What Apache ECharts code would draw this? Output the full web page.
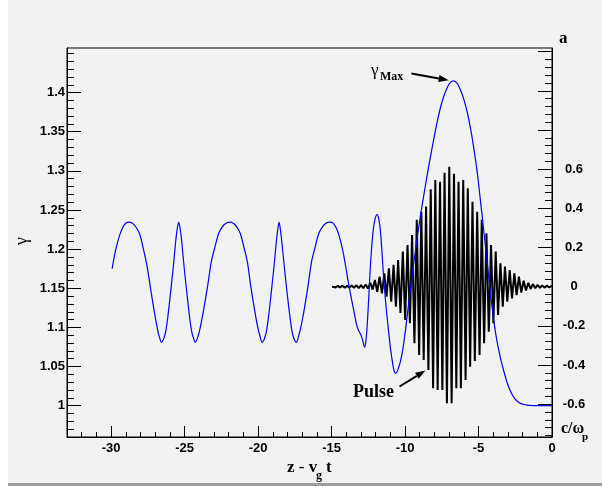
<!DOCTYPE html>
<html>
<head>
<meta charset="utf-8">
<script src="https://cdn.jsdelivr.net/npm/echarts@6/dist/echarts.min.js"></script>
<style>
  html, body { margin: 0; padding: 0; background: #ffffff; }
  #chart { width: 602px; height: 486px; }
</style>
</head>
<body>
<div id="chart"></div>
<script>
// Lorentz factor of the wake electrons along the co-moving coordinate z - v_g t
const gammaZ = [
  -29.93, -29.7, -29.45, -29.2, -29.0, -28.8, -28.55, -28.3, -28.05, -27.8, -27.55, -27.3, -27.05, -26.8, -26.7, -26.58,
  -26.43, -26.28, -26.13, -25.98, -25.78, -25.63, -25.53, -25.4, -25.27, -25.17, -25.02, -24.82, -24.67, -24.52, -24.39, -24.27,
  -24.08, -23.93, -23.68, -23.43, -23.18, -22.93, -22.68, -22.43, -22.18, -21.93,
  -21.69, -21.45, -21.21, -20.97, -20.73, -20.5, -20.26, -20.02, -19.87, -19.73,
  -19.58, -19.43, -19.28, -19.13, -18.93, -18.78, -18.68, -18.57, -18.46, -18.36, -18.2, -18.0, -17.84, -17.69, -17.54, -17.39,
  -17.24, -17.09, -16.84, -16.6, -16.36, -16.11, -15.87, -15.62, -15.38, -15.13,
  -14.88, -14.63, -14.38, -14.13, -13.88, -13.63, -13.45, -13.3, -13.16, -13.04, -12.9, -12.75,
  -12.65, -12.55, -12.45, -12.36, -12.25, -12.14, -12.02, -11.9, -11.79, -11.68, -11.57, -11.46, -11.34, -11.22, -11.1, -11.0,
  -10.85, -10.75, -10.65, -10.55, -10.45, -10.32, -10.15, -9.98, -9.8, -9.64, -9.4, -9.18, -8.95, -8.73, -8.5, -8.27, -8.05,
  -7.83, -7.6, -7.37, -7.14, -6.92, -6.69, -6.46, -6.24, -6.01, -5.78, -5.55, -5.33, -5.1, -4.88, -4.65, -4.42, -4.2,
  -3.97, -3.75, -3.52, -3.29, -3.06, -2.84, -2.61, -2.38, -2.15, -1.92, -1.69, -1.46, -1.14, -0.6, 0];
const gammaVal = [
  1.175, 1.198, 1.216, 1.228, 1.233, 1.2345, 1.233, 1.228, 1.219, 1.200, 1.178, 1.148, 1.119, 1.094, 1.087, 1.081,
  1.085, 1.095, 1.115, 1.140, 1.175, 1.205, 1.222, 1.2345, 1.222, 1.205, 1.175, 1.140, 1.115, 1.095, 1.086, 1.081,
  1.089, 1.100, 1.125, 1.153, 1.184, 1.203, 1.220, 1.2285, 1.233, 1.2345,
  1.233, 1.2285, 1.220, 1.203, 1.184, 1.153, 1.125, 1.100, 1.089, 1.081,
  1.085, 1.095, 1.115, 1.140, 1.175, 1.205, 1.222, 1.2345, 1.222, 1.205, 1.175, 1.140, 1.115, 1.095, 1.085, 1.081,
  1.089, 1.100, 1.125, 1.153, 1.184, 1.203, 1.220, 1.2285, 1.233, 1.2345,
  1.233, 1.225, 1.210, 1.188, 1.160, 1.135, 1.118, 1.104, 1.096, 1.092, 1.085, 1.0746,
  1.085, 1.110, 1.145, 1.177, 1.207, 1.228, 1.240, 1.2443, 1.239, 1.224, 1.197, 1.164, 1.137, 1.113, 1.092, 1.0746,
  1.055, 1.045, 1.0413, 1.043, 1.048, 1.056, 1.072, 1.095, 1.123, 1.148, 1.183, 1.213, 1.243, 1.268, 1.294, 1.318, 1.340,
  1.361, 1.380, 1.395, 1.406, 1.413, 1.415, 1.412, 1.404, 1.392, 1.376, 1.355, 1.330, 1.300, 1.264, 1.225, 1.185, 1.146,
  1.110, 1.083, 1.062, 1.045, 1.030, 1.019, 1.011, 1.006, 1.003, 1.0015, 1.0007, 1.0003, 1.0, 1.0, 1.0];

// Laser pulse field a: successive crests and troughs of the carrier
const pulseZ = [-14.97,
  -14.89, -14.73, -14.57, -14.42, -14.26, -14.10, -13.94, -13.78, -13.63, -13.47,
  -13.31, -13.15, -12.99, -12.84, -12.68, -12.52, -12.36, -12.20, -12.05, -11.89,
  -11.73, -11.57, -11.41, -11.26, -11.10, -10.94, -10.78, -10.62, -10.47, -10.31,
  -10.15, -9.99, -9.83, -9.67, -9.52, -9.36, -9.20, -9.04, -8.89, -8.73,
  -8.57, -8.41, -8.25, -8.09, -7.94, -7.78, -7.62, -7.46, -7.31, -7.15,
  -6.99, -6.83, -6.67, -6.51, -6.36, -6.20, -6.04, -5.88, -5.73, -5.57,
  -5.41, -5.25, -5.09, -4.93, -4.78, -4.62, -4.46, -4.30, -4.15, -3.99,
  -3.83, -3.67, -3.51, -3.35, -3.20, -3.04, -2.88, -2.72, -2.56, -2.41,
  -2.25, -2.09, -1.93, -1.77, -1.61, -1.46, -1.30, -1.14, -0.98, -0.82,
  -0.67, -0.51, -0.35, -0.19, -0.04, 0];
const pulseA = [0,
  0.004, -0.004, 0.004, -0.004, 0.005, -0.005, 0.005, -0.005, 0.006, -0.006,
  0.007, -0.007, 0.008, -0.008, 0.011, -0.010, 0.020, -0.015, 0.034, -0.026,
  0.051, -0.034, 0.068, -0.051, 0.094, -0.077, 0.111, -0.102, 0.136, -0.135,
  0.179, -0.170, 0.213, -0.187, 0.264, -0.289, 0.341, -0.349, 0.383, -0.374,
  0.409, -0.426, 0.497, -0.519, 0.545, -0.528, 0.536, -0.528, 0.582, -0.596,
  0.613, -0.596, 0.576, -0.519, 0.536, -0.519, 0.545, -0.477, 0.502, -0.409,
  0.434, -0.380, 0.383, -0.349, 0.341, -0.289, 0.272, -0.230, 0.213, -0.187,
  0.179, -0.145, 0.119, -0.102, 0.102, -0.077, 0.085, -0.060, 0.068, -0.043,
  0.051, -0.030, 0.030, -0.020, 0.020, -0.012, 0.013, -0.008, 0.009, -0.006,
  0.006, -0.005, 0.005, -0.004, 0.003, 0];

// Tick labels
const zTicks = [-30, -25, -20, -15, -10, -5, 0];
const gammaTicks = [1, 1.05, 1.1, 1.15, 1.2, 1.25, 1.3, 1.35, 1.4];
const aTicks = [-0.6, -0.4, -0.2, 0, 0.2, 0.4, 0.6];

// Axis ranges
const zMin = -33, zMax = 0;
const gMin = 0.96, gMax = 1.457;
const aMin = -0.768, aMax = 1.219;

function steps(from, to, step, digits) {
  const out = [];
  for (let v = from; v <= to + step / 2; v += step) out.push(+v.toFixed(digits));
  return out;
}
const zMinor = steps(-33, 0, 1, 0);
const gMinor = steps(0.96, 1.45, 0.01, 2);
const aMinor = steps(-0.76, 1.2, 0.04, 2);
const aMajor = steps(-0.6, 1.2, 0.2, 1);

const BLACK = '#000000';
const labelFont = { color: BLACK, fontFamily: 'Liberation Sans', fontWeight: 'bold', fontSize: 13 };

const chart = echarts.init(document.getElementById('chart'), null, { renderer: 'canvas' });

chart.setOption({
  animation: false,
  backgroundColor: '#f2f2f2',
  grid: {
    left: 67, right: 50, top: 48, bottom: 49,
    containLabel: false, outerBoundsMode: 'none',
    show: true, borderColor: BLACK, borderWidth: 1, backgroundColor: 'transparent'
  },
  xAxis: [
    {
      type: 'value', min: zMin, max: zMax, position: 'bottom',
      axisLine: { show: true, onZero: false, lineStyle: { color: BLACK, width: 1 } },
      axisTick: { show: true, inside: true, length: 5, customValues: zMinor, lineStyle: { color: BLACK, width: 1 } },
      axisLabel: { show: false },
      splitLine: { show: false }
    },
    {
      type: 'value', min: zMin, max: zMax, position: 'bottom',
      axisLine: { show: false, onZero: false },
      axisTick: { show: true, inside: true, length: 11, customValues: zTicks, lineStyle: { color: BLACK, width: 1 } },
      axisLabel: Object.assign({ show: true, margin: 5, customValues: zTicks }, labelFont),
      splitLine: { show: false }
    }
  ],
  yAxis: [
    {
      type: 'value', min: gMin, max: gMax, position: 'left',
      axisLine: { show: true, onZero: false, lineStyle: { color: BLACK, width: 1 } },
      axisTick: { show: true, inside: true, length: 7, customValues: gMinor, lineStyle: { color: BLACK, width: 1 } },
      axisLabel: { show: false },
      splitLine: { show: false }
    },
    {
      type: 'value', min: gMin, max: gMax, position: 'left',
      axisLine: { show: false, onZero: false },
      axisTick: { show: true, inside: true, length: 14, customValues: gammaTicks, lineStyle: { color: BLACK, width: 1 } },
      axisLabel: Object.assign({ show: true, margin: 2, customValues: gammaTicks }, labelFont),
      splitLine: { show: false }
    },
    {
      type: 'value', min: aMin, max: aMax, position: 'right',
      axisLine: { show: true, onZero: false, lineStyle: { color: BLACK, width: 1 } },
      axisTick: { show: true, inside: true, length: 7, customValues: aMinor, lineStyle: { color: BLACK, width: 1 } },
      axisLabel: { show: false },
      splitLine: { show: false }
    },
    {
      type: 'value', min: aMin, max: aMax, position: 'right',
      axisLine: { show: false, onZero: false },
      axisTick: { show: true, inside: true, length: 14, customValues: aMajor, lineStyle: { color: BLACK, width: 1 } },
      axisLabel: Object.assign({ show: true, margin: 22, align: 'center', customValues: aTicks }, labelFont),
      splitLine: { show: false }
    }
  ],
  series: [
    {
      name: 'pulse', type: 'line', xAxisIndex: 0, yAxisIndex: 2,
      data: pulseZ.map((z, i) => [z, pulseA[i]]),
      showSymbol: false, smooth: false, z: 3,
      lineStyle: { color: BLACK, width: 2 }
    },
    {
      name: 'gamma', type: 'line', xAxisIndex: 0, yAxisIndex: 0,
      data: gammaZ.map((z, i) => [z, gammaVal[i]]),
      showSymbol: false, smooth: 0.3, z: 4,
      lineStyle: { color: '#0000ff', width: 1.2 }
    }
  ]
});

// Annotation arrows anchored to points of the curves
function arrow(x1, y1, x2, y2) {
  const ang = Math.atan2(y2 - y1, x2 - x1);
  const L = 10, W = 3.5;
  const bx = x2 - L * Math.cos(ang), by = y2 - L * Math.sin(ang);
  const px = -Math.sin(ang) * W, py = Math.cos(ang) * W;
  return [
    { type: 'line', shape: { x1: x1, y1: y1, x2: bx, y2: by }, style: { stroke: BLACK, lineWidth: 2 } },
    { type: 'polygon', shape: { points: [[x2, y2], [bx + px, by + py], [bx - px, by - py]] }, style: { fill: BLACK } }
  ];
}

const peakIdx = gammaVal.indexOf(Math.max(...gammaVal));
const peakPx = chart.convertToPixel({ xAxisIndex: 0, yAxisIndex: 0 }, [gammaZ[peakIdx], gammaVal[peakIdx]]);
const troughIdx = pulseZ.indexOf(-8.41);
const troughPx = chart.convertToPixel({ xAxisIndex: 0, yAxisIndex: 2 }, [pulseZ[troughIdx], pulseA[troughIdx]]);

const serif = 'Liberation Serif';
const graphics = [
  { type: 'rect', shape: { x: 0, y: 0, width: 8, height: 486 }, style: { fill: '#ffffff' }, z: -1 },
  { type: 'rect', shape: { x: 8, y: 483, width: 594, height: 3 }, style: { fill: '#a0a0a0' }, z: -1 },
  // axis titles
  { type: 'text', x: 22, y: 241, rotation: Math.PI / 2,
    style: { text: 'γ', font: '18px ' + serif, fill: BLACK, textAlign: 'center', textVerticalAlign: 'middle' } },
  { type: 'text', x: 287, y: 476,
    style: { text: 'z - v', font: 'bold 17px ' + serif, fill: BLACK, textAlign: 'left', textVerticalAlign: 'bottom' } },
  { type: 'text', x: 316, y: 482,
    style: { text: 'g', font: 'bold 12px ' + serif, fill: BLACK, textAlign: 'left', textVerticalAlign: 'bottom' } },
  { type: 'text', x: 326, y: 476,
    style: { text: 't', font: 'bold 17px ' + serif, fill: BLACK, textAlign: 'left', textVerticalAlign: 'bottom' } },
  { type: 'text', x: 559, y: 47,
    style: { text: 'a', font: 'bold 17px ' + serif, fill: BLACK, textAlign: 'left', textVerticalAlign: 'bottom' } },
  { type: 'text', x: 561, y: 437,
    style: { text: 'c/ω', font: 'bold 16px ' + serif, fill: BLACK, textAlign: 'left', textVerticalAlign: 'bottom' } },
  { type: 'text', x: 582, y: 443,
    style: { text: 'p', font: 'bold 11px ' + serif, fill: BLACK, textAlign: 'left', textVerticalAlign: 'bottom' } },
  // gamma max annotation
  { type: 'text', x: 371, y: 79,
    style: { text: 'γ', font: '17px ' + serif, fill: BLACK, textAlign: 'left', textVerticalAlign: 'bottom' } },
  { type: 'text', x: 380, y: 83,
    style: { text: 'Max', font: 'bold 12px ' + serif, fill: BLACK, textAlign: 'left', textVerticalAlign: 'bottom' } },
  // pulse annotation
  { type: 'text', x: 353, y: 401,
    style: { text: 'Pulse', font: 'bold 18px ' + serif, fill: BLACK, textAlign: 'left', textVerticalAlign: 'bottom' } }
];
arrow(411.5, 73.5, peakPx[0] - 5, peakPx[1] - 0.5).forEach(g => graphics.push(g));
arrow(399.5, 386.5, troughPx[0] - 3, troughPx[1] + 0.5).forEach(g => graphics.push(g));

chart.setOption({ graphic: { elements: graphics } });
</script>
</body>
</html>
